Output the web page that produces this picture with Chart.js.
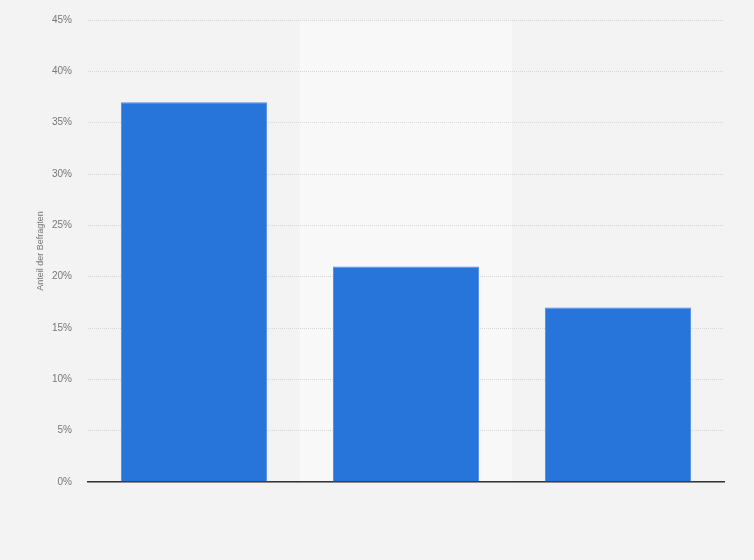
<!DOCTYPE html>
<html>
<head>
<meta charset="utf-8">
<script src="https://cdn.jsdelivr.net/npm/chart.js@4"></script>
<style>
  html, body { margin: 0; padding: 0; background: #f3f3f3; }
  #wrap { width: 754px; height: 560px; }
</style>
</head>
<body>
<div id="wrap"><canvas id="chart"></canvas></div>
<script>
// categories are not printed in the picture
const categories = ['', ' ', '  '];
const shares = [37, 21, 17];
const yTicks = [0, 5, 10, 15, 20, 25, 30, 35, 40, 45];

// lighter band behind every second category, under grid and axis
const bandPlugin = {
    id: 'bands',
    beforeDraw(chart) {
        const ctx = chart.ctx;
        const x = chart.scales.x;
        const area = chart.chartArea;
        const step = x.getPixelForValue(1) - x.getPixelForValue(0);
        ctx.save();
        ctx.fillStyle = '#f8f8f8';
        for (let i = 1; i < categories.length; i += 2) {
            const c = x.getPixelForValue(i);
            ctx.fillRect(c - step / 2, area.top, step, area.bottom - area.top);
        }
        ctx.restore();
    }
};

const ctx = document.getElementById('chart').getContext('2d');
new Chart(ctx, {
    type: 'bar',
    data: {
        labels: categories,
        datasets: [{
            data: shares,
            backgroundColor: '#2775db',
            borderColor: '#4a8be4',
            borderWidth: 1,
            barPercentage: 0.69,
            categoryPercentage: 1
        }]
    },
    options: {
        responsive: true,
        maintainAspectRatio: false,
        animation: false,
        layout: { padding: { left: 31, right: 30, top: 20, bottom: 70 } },
        plugins: {
            legend: { display: false },
            tooltip: { enabled: false }
        },
        scales: {
            x: {
                grid: { display: false },
                border: { color: '#333', width: 1.5 },
                ticks: { display: false }
            },
            y: {
                min: 0,
                max: 45,
                afterBuildTicks: axis => { axis.ticks = yTicks.map(v => ({ value: v })); },
                afterFit: axis => {
                    axis.width = 57;
                    axis.paddingTop = 0;
                    axis.paddingBottom = 0;
                },
                border: { display: false, dash: [1, 1] },
                grid: { color: '#d6d6d6', drawTicks: false, lineWidth: 1 },
                ticks: {
                    padding: 16,
                    color: '#777',
                    font: { family: 'Liberation Sans, Arial', size: 10 },
                    callback: v => v + '%'
                },
                title: {
                    display: true,
                    text: 'Anteil der Befragten',
                    color: '#777',
                    font: { family: 'Liberation Sans, Arial', size: 9 },
                    padding: { top: 4, bottom: 10 }
                }
            }
        }
    },
    plugins: [bandPlugin]
});
</script>
</body>
</html>
